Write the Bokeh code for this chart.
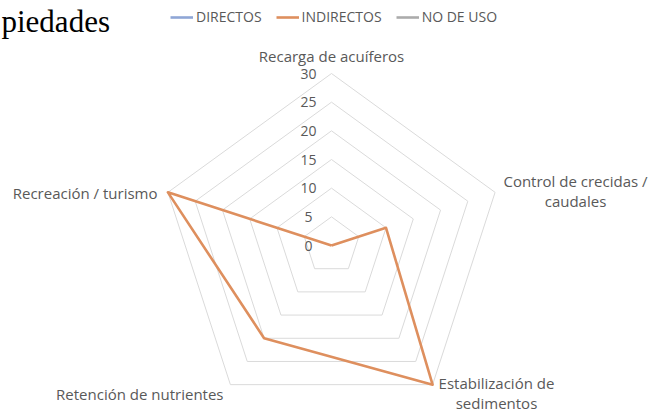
import math
from bokeh.plotting import figure
from bokeh.models import Range1d, Legend, LegendItem
from bokeh.core.properties import value
from bokeh.embed import file_html
from bokeh.resources import INLINE

# ---- data ----
categories = ["Recarga de acuíferos", "Control de crecidas /\ncaudales",
              "Estabilización de\nsedimentos", "Retención de nutrientes",
              "Recreación / turismo"]
directos = [0, 0, 0, 0, 0]
indirectos = [0, 10, 30, 20, 30]
no_de_uso = [0, 0, 0, 0, 0]
tick_values = [0, 5, 10, 15, 20, 25, 30]
tick_labels = ["0", "5", "10", "15", "20", "25", "30"]
series_names = ["DIRECTOS", "INDIRECTOS", "NO DE USO"]
series_colors = ["#8FA6D6", "#DE8F5E", "#ABABAB"]
title_text = "piedades"

# ---- layout ----
W, H = 650, 412
CX, CY = 331, 245          # centre of the radar, canvas px
RMAX = max(tick_values)
S = 172 / RMAX             # px per unit
FONT = "Open Sans"
TXT = "#595959"

p = figure(width=W, height=H, output_backend="svg", toolbar_location=None,
           x_range=Range1d(-CX / S, (W - CX) / S),
           y_range=Range1d(-(H - CY) / S, CY / S),
           min_border=0, outline_line_color=None)
p.axis.visible = False
p.grid.visible = False
p.background_fill_color = "white"
p.border_fill_color = "white"

n = len(categories)
angles = [math.radians(90 - 360 * i / n) for i in range(n)]

def ring(vals):
    xs = [v * math.cos(a) for v, a in zip(vals, angles)]
    ys = [v * math.sin(a) for v, a in zip(vals, angles)]
    return xs + xs[:1], ys + ys[:1]

# grid pentagons
for t in tick_values[1:]:
    xs, ys = ring([t] * n)
    p.line(xs, ys, line_color="#DADADA", line_width=1)

# tick labels
p.text(x=[-23 / S] * len(tick_values), y=tick_values, text=tick_labels,
       text_font=value(FONT), text_font_size="14px", text_color=TXT,
       text_align="center", text_baseline="middle")

# series
renderers = []
for vals, c in [(directos, series_colors[0]), (no_de_uso, series_colors[2]),
                (indirectos, series_colors[1])]:
    xs, ys = ring(vals)
    renderers.append(p.line(xs, ys, line_color=c, line_width=2.6,
                            line_join="round"))
r_dir, r_nou, r_ind = renderers

# category labels (offsets in px from the outer vertex)
vx = [RMAX * math.cos(a) for a in angles]
vy = [RMAX * math.sin(a) for a in angles]
lab = [
    (0, 18, "center"),
    (244 - vx[1] * S, 1, "center"),
    (165 - vx[2] * S, -147 - vy[2] * S, "center"),
    (-108 - vx[3] * S, -148 - vy[3] * S, "right"),
    (-174 - vx[4] * S, 53 - vy[4] * S, "right"),
]
for i, (dx, dy, al) in enumerate(lab):
    p.text(x=[vx[i] + dx / S], y=[vy[i] + dy / S], text=[categories[i]],
           text_font=value(FONT), text_font_size="15px", text_color=TXT,
           text_align=al, text_baseline="middle", text_line_height=1.0)

# cropped document text
p.text(x=[(1 - CX) / S], y=[(CY - 21) / S], text=[title_text],
       text_font=value("Liberation Serif"), text_font_size="31px",
       text_color="black", text_align="left", text_baseline="alphabetic")

legend = Legend(items=[LegendItem(label=series_names[0], renderers=[r_dir]),
                       LegendItem(label=series_names[1], renderers=[r_ind]),
                       LegendItem(label=series_names[2], renderers=[r_nou])],
                orientation="horizontal", location=(170, 386),
                padding=0, margin=0, spacing=14, label_standoff=3,
                glyph_width=23, glyph_height=18, label_height=18,
                border_line_color=None, background_fill_alpha=0,
                label_text_font=FONT, label_text_font_size="14px",
                label_text_color=TXT)
p.add_layout(legend, "center")

open("out.html", "w").write(file_html(p, INLINE))
